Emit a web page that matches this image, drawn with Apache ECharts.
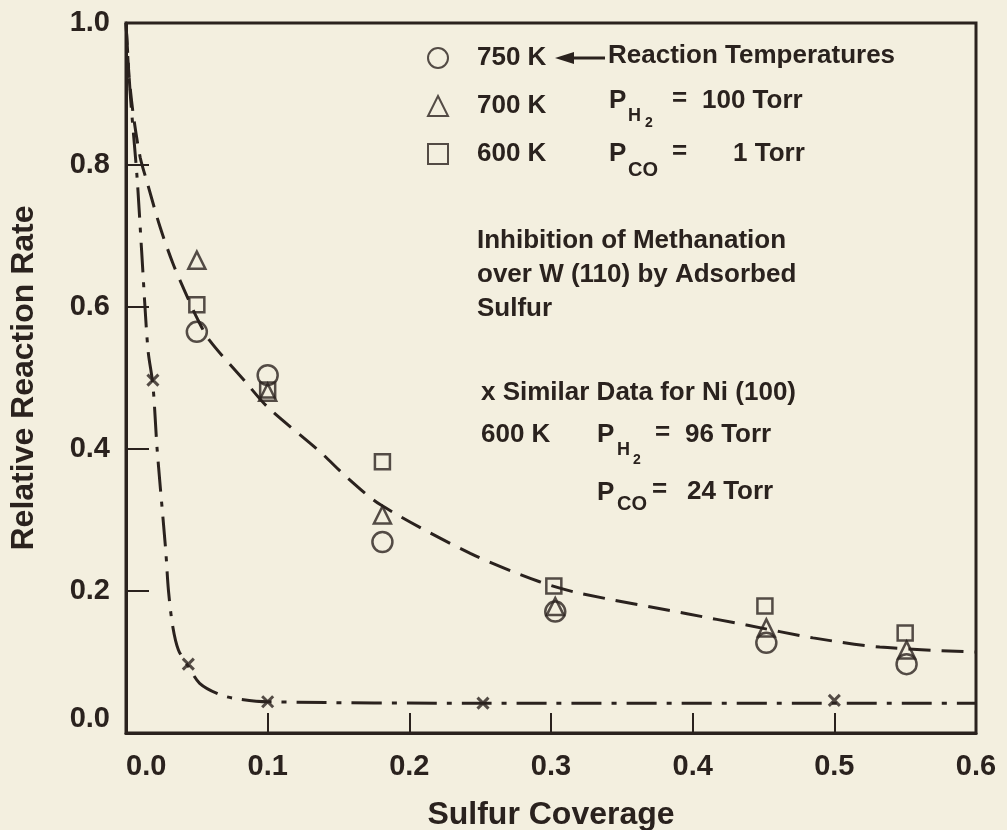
<!DOCTYPE html>
<html>
<head>
<meta charset="utf-8">
<script src="https://cdn.jsdelivr.net/npm/echarts@6/dist/echarts.min.js"></script>
<style>
  html, body { margin: 0; padding: 0; background: #f3efdf; }
  #chart { width: 1007px; height: 830px; }
</style>
</head>
<body>
<div id="chart"></div>
<script>
// data: [sulfur coverage, relative rate]
var temp750 = [[0.05, 0.565], [0.1, 0.504], [0.181, 0.269], [0.303, 0.171], [0.452, 0.127], [0.551, 0.097]];
var temp700 = [[0.05, 0.666], [0.1, 0.48], [0.181, 0.307], [0.303, 0.178], [0.452, 0.148], [0.551, 0.117]];
var temp600 = [[0.05, 0.603], [0.1, 0.483], [0.181, 0.382], [0.302, 0.207], [0.451, 0.179], [0.55, 0.141]];
var niData = [[0.019, 0.497], [0.044, 0.097], [0.1, 0.044], [0.252, 0.042], [0.5, 0.046]];

// hand drawn curves
var wCurve = [[0, 1.0], [0.002, 0.93], [0.005, 0.873], [0.01, 0.811], [0.015, 0.775], [0.024, 0.713],
  [0.033, 0.662], [0.042, 0.62], [0.05, 0.585], [0.059, 0.553], [0.085, 0.493], [0.1, 0.459],
  [0.137, 0.396], [0.156, 0.36], [0.18, 0.321], [0.243, 0.253], [0.292, 0.213], [0.32, 0.197],
  [0.396, 0.168], [0.438, 0.152], [0.485, 0.134], [0.532, 0.121], [0.6, 0.114]];
var niCurve = [[0, 1.0], [0.003, 0.9], [0.0078, 0.783], [0.011, 0.68], [0.0155, 0.54], [0.019, 0.49],
  [0.022, 0.399], [0.028, 0.258], [0.03, 0.2], [0.033, 0.15], [0.037, 0.117], [0.044, 0.094],
  [0.052, 0.07], [0.065, 0.055], [0.076, 0.049], [0.1, 0.044], [0.25, 0.042], [0.6, 0.042]];

var xTicks = [0, 0.1, 0.2, 0.3, 0.4, 0.5, 0.6];
var yTicks = [0, 0.2, 0.4, 0.6, 0.8, 1.0];

var ink = '#2a221e';
var font = '"Liberation Sans", Arial, Helvetica, sans-serif';

var myChart = echarts.init(document.getElementById('chart'));

function txt(x, y, s, size) {
  return {
    type: 'text', left: x, top: y - size * 0.6,
    style: { text: s, fill: ink, font: 'bold ' + size + 'px ' + font }
  };
}

var option = {
  backgroundColor: '#f3efdf',
  animation: false,
  textStyle: { fontFamily: font, color: ink },
  grid: {
    left: 126, right: 31, top: 23, bottom: 97,
    outerBoundsMode: 'none',
    show: true, borderColor: ink, borderWidth: 3, backgroundColor: 'transparent'
  },
  legend: {
    data: ['750 K', '700 K', '600 K'],
    orient: 'vertical',
    left: 422, top: 40,
    itemWidth: 20, itemHeight: 20, itemGap: 22,
    textStyle: { fontSize: 26, fontWeight: 'bold', color: ink, padding: [0, 0, 0, 24] }
  },
  xAxis: {
    type: 'value', min: 0, max: 0.6, interval: 0.1,
    name: 'Sulfur Coverage', nameLocation: 'middle', nameGap: 66,
    nameTextStyle: { fontSize: 32, fontWeight: 'bold', color: ink },
    axisLine: { lineStyle: { color: ink, width: 3 } },
    axisTick: { inside: true, length: 20, lineStyle: { color: ink, width: 2 } },
    axisLabel: {
      fontSize: 29, fontWeight: 'bold', color: ink, margin: 19,
      alignMinLabel: 'left',
      formatter: function (v) { return v.toFixed(1); }
    },
    splitLine: { show: false }
  },
  yAxis: {
    type: 'value', min: 0, max: 1, interval: 0.2,
    name: 'Relative Reaction Rate', nameLocation: 'middle', nameGap: 86,
    nameTextStyle: { fontSize: 32, fontWeight: 'bold', color: ink },
    axisLine: { lineStyle: { color: ink, width: 3 } },
    axisTick: { inside: true, length: 23, lineStyle: { color: ink, width: 2 } },
    axisLabel: {
      fontSize: 29, fontWeight: 'bold', color: ink, margin: 16,
      padding: [8, 0, 0, 0],
      verticalAlignMinLabel: 'bottom',
      formatter: function (v) { return v.toFixed(1); }
    },
    splitLine: { show: false }
  },
  series: [
    {
      name: 'W (110)', type: 'line', data: wCurve, showSymbol: false, smooth: 0.3,
      lineStyle: { color: ink, width: 3, type: [22, 11] }, z: 1
    },
    {
      name: 'Ni (100)', type: 'line', data: niCurve, showSymbol: false, smooth: 0.3,
      lineStyle: { color: ink, width: 3, type: [30, 10, 5, 10] }, z: 1
    },
    {
      name: '750 K', type: 'scatter', data: temp750, symbol: 'circle', symbolSize: 20,
      itemStyle: { color: 'transparent', borderColor: ink, borderWidth: 2.5 }, z: 3
    },
    {
      name: '700 K', type: 'scatter', data: temp700, symbol: 'triangle', symbolSize: 17,
      itemStyle: { color: 'transparent', borderColor: ink, borderWidth: 2.5 }, z: 3
    },
    {
      name: '600 K', type: 'scatter', data: temp600, symbol: 'rect', symbolSize: 15,
      itemStyle: { color: 'transparent', borderColor: ink, borderWidth: 2.5 }, z: 3
    },
    {
      name: 'Ni x', type: 'scatter', data: niData, symbol: 'path://M0,0L10,10M10,0L0,10', symbolSize: 11,
      itemStyle: { color: 'transparent', borderColor: ink, borderWidth: 3 }, z: 3
    }
  ],
  graphic: [
    // arrow "<---"
    { type: 'line', shape: { x1: 568, y1: 58, x2: 605, y2: 58 }, style: { stroke: ink, lineWidth: 3 } },
    { type: 'polygon', shape: { points: [[555, 58], [574, 52], [574, 64]] }, style: { fill: ink } },
    txt(608, 58, 'Reaction Temperatures', 26),
    txt(609, 103, 'P', 26),
    txt(628, 118, 'H', 18),
    txt(645, 125, '2', 14),
    txt(672, 101, '=', 26),
    txt(702, 103, '100 Torr', 26),
    txt(609, 156, 'P', 26),
    txt(628, 172, 'CO', 20),
    txt(672, 154, '=', 26),
    txt(733, 156, '1 Torr', 26),
    txt(477, 243, 'Inhibition of Methanation', 26),
    txt(477, 277, 'over W (110) by Adsorbed', 26),
    txt(477, 311, 'Sulfur', 26),
    txt(481, 395, 'x Similar Data for Ni (100)', 26),
    txt(481, 437, '600 K', 26),
    txt(597, 437, 'P', 26),
    txt(617, 452, 'H', 18),
    txt(633, 462, '2', 14),
    txt(655, 435, '=', 26),
    txt(685, 437, '96 Torr', 26),
    txt(597, 495, 'P', 26),
    txt(617, 506, 'CO', 20),
    txt(652, 492, '=', 26),
    txt(687, 494, '24 Torr', 26)
  ]
};

myChart.setOption(option);
window.addEventListener('resize', function () {
  myChart.resize();
});
</script>
</body>
</html>
